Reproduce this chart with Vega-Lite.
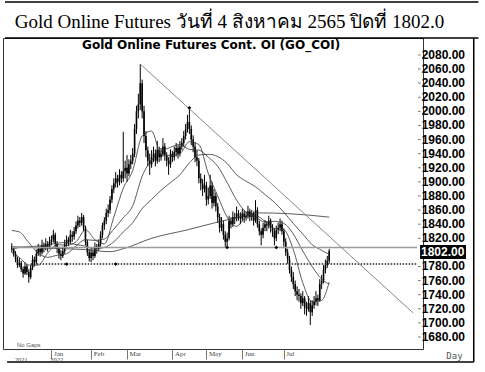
{
"$schema": "https://vega.github.io/schema/vega-lite/v6.json",
"width": 420, "height": 311,
"autosize": "none",
"padding": {"left": 3, "top": 38, "right": 62, "bottom": 23},
"background": "white",
"config": {"view": {"stroke": "#333", "strokeWidth": 1}, "axisX": {"labelOverlap": false}},
"datasets": {
"px": [
{"i":2,"o":1808,"h":1813,"l":1800,"c":1805},{"i":3,"o":1805,"h":1808,"l":1794,"c":1798},{"i":4,"o":1798,"h":1802,"l":1786,"c":1790},{"i":5,"o":1790,"h":1794,"l":1778,"c":1782},{"i":6,"o":1782,"h":1792,"l":1779,"c":1785},{"i":7,"o":1785,"h":1788,"l":1772,"c":1776},{"i":8,"o":1776,"h":1780,"l":1764,"c":1770},{"i":9,"o":1770,"h":1786,"l":1768,"c":1780},{"i":10,"o":1780,"h":1784,"l":1768,"c":1772},{"i":11,"o":1772,"h":1776,"l":1757,"c":1765},
{"i":12,"o":1765,"h":1782,"l":1762,"c":1778},{"i":13,"o":1778,"h":1796,"l":1775,"c":1790},{"i":14,"o":1790,"h":1794,"l":1780,"c":1786},{"i":15,"o":1786,"h":1804,"l":1783,"c":1798},{"i":16,"o":1798,"h":1812,"l":1795,"c":1805},{"i":17,"o":1805,"h":1809,"l":1794,"c":1800},{"i":18,"o":1800,"h":1818,"l":1797,"c":1810},{"i":19,"o":1810,"h":1814,"l":1800,"c":1806},{"i":20,"o":1806,"h":1820,"l":1803,"c":1812},{"i":21,"o":1812,"h":1816,"l":1801,"c":1808},
{"i":22,"o":1808,"h":1822,"l":1805,"c":1815},{"i":23,"o":1815,"h":1824,"l":1810,"c":1818},{"i":24,"o":1818,"h":1832,"l":1814,"c":1825},{"i":25,"o":1825,"h":1828,"l":1806,"c":1812},{"i":26,"o":1812,"h":1816,"l":1799,"c":1805},{"i":27,"o":1805,"h":1808,"l":1791,"c":1798},{"i":28,"o":1798,"h":1803,"l":1789,"c":1795},{"i":29,"o":1795,"h":1808,"l":1792,"c":1802},{"i":30,"o":1802,"h":1818,"l":1798,"c":1812},{"i":31,"o":1812,"h":1824,"l":1808,"c":1818},
{"i":32,"o":1818,"h":1822,"l":1809,"c":1815},{"i":33,"o":1815,"h":1832,"l":1812,"c":1825},{"i":34,"o":1825,"h":1830,"l":1815,"c":1822},{"i":35,"o":1822,"h":1836,"l":1818,"c":1830},{"i":36,"o":1830,"h":1844,"l":1826,"c":1838},{"i":37,"o":1838,"h":1852,"l":1834,"c":1845},{"i":38,"o":1845,"h":1850,"l":1836,"c":1842},{"i":39,"o":1842,"h":1856,"l":1838,"c":1850},{"i":40,"o":1850,"h":1853,"l":1830,"c":1835},{"i":41,"o":1835,"h":1838,"l":1810,"c":1815},
{"i":42,"o":1815,"h":1818,"l":1795,"c":1800},{"i":43,"o":1800,"h":1805,"l":1787,"c":1792},{"i":44,"o":1792,"h":1806,"l":1786,"c":1800},{"i":45,"o":1800,"h":1804,"l":1789,"c":1795},{"i":46,"o":1795,"h":1814,"l":1792,"c":1808},{"i":47,"o":1808,"h":1812,"l":1798,"c":1805},{"i":48,"o":1805,"h":1818,"l":1802,"c":1812},{"i":49,"o":1812,"h":1830,"l":1808,"c":1825},{"i":50,"o":1825,"h":1842,"l":1820,"c":1838},{"i":51,"o":1838,"h":1850,"l":1832,"c":1845},
{"i":52,"o":1845,"h":1862,"l":1840,"c":1856},{"i":53,"o":1856,"h":1868,"l":1850,"c":1860},{"i":54,"o":1860,"h":1880,"l":1855,"c":1875},{"i":55,"o":1875,"h":1895,"l":1870,"c":1890},{"i":56,"o":1890,"h":1905,"l":1884,"c":1898},{"i":57,"o":1898,"h":1914,"l":1892,"c":1905},{"i":58,"o":1905,"h":1910,"l":1892,"c":1900},{"i":59,"o":1900,"h":1918,"l":1895,"c":1910},{"i":60,"o":1910,"h":1915,"l":1898,"c":1905},{"i":61,"o":1905,"h":1971,"l":1900,"c":1915},
{"i":62,"o":1915,"h":1930,"l":1905,"c":1920},{"i":63,"o":1920,"h":1938,"l":1900,"c":1912},{"i":64,"o":1912,"h":1932,"l":1908,"c":1925},{"i":65,"o":1925,"h":1938,"l":1918,"c":1930},{"i":66,"o":1930,"h":1948,"l":1925,"c":1940},{"i":67,"o":1940,"h":1982,"l":1935,"c":1975},{"i":68,"o":1975,"h":2008,"l":1968,"c":2000},{"i":69,"o":2000,"h":2025,"l":1990,"c":2010},{"i":70,"o":2010,"h":2067,"l":2002,"c":2040},{"i":71,"o":2040,"h":2045,"l":1990,"c":2000},
{"i":72,"o":2000,"h":2008,"l":1955,"c":1965},{"i":73,"o":1965,"h":1972,"l":1935,"c":1945},{"i":74,"o":1945,"h":1950,"l":1922,"c":1930},{"i":75,"o":1930,"h":1940,"l":1910,"c":1925},{"i":76,"o":1925,"h":1945,"l":1920,"c":1935},{"i":77,"o":1935,"h":1950,"l":1928,"c":1940},{"i":78,"o":1940,"h":1946,"l":1922,"c":1930},{"i":79,"o":1930,"h":1958,"l":1926,"c":1945},{"i":80,"o":1945,"h":1950,"l":1928,"c":1935},{"i":81,"o":1935,"h":1948,"l":1930,"c":1940},
{"i":82,"o":1940,"h":1962,"l":1936,"c":1950},{"i":83,"o":1950,"h":1955,"l":1930,"c":1938},{"i":84,"o":1938,"h":1942,"l":1922,"c":1930},{"i":85,"o":1930,"h":1935,"l":1910,"c":1925},{"i":86,"o":1925,"h":1946,"l":1920,"c":1940},{"i":87,"o":1940,"h":1944,"l":1928,"c":1935},{"i":88,"o":1935,"h":1950,"l":1930,"c":1942},{"i":89,"o":1942,"h":1955,"l":1936,"c":1948},{"i":90,"o":1948,"h":1952,"l":1933,"c":1940},{"i":91,"o":1940,"h":1958,"l":1936,"c":1950},
{"i":92,"o":1950,"h":1962,"l":1945,"c":1955},{"i":93,"o":1955,"h":1972,"l":1950,"c":1965},{"i":94,"o":1965,"h":1982,"l":1960,"c":1975},{"i":95,"o":1975,"h":1995,"l":1970,"c":1985},{"i":96,"o":1985,"h":2003,"l":1968,"c":1975},{"i":97,"o":1975,"h":1980,"l":1952,"c":1960},{"i":98,"o":1960,"h":1966,"l":1942,"c":1950},{"i":99,"o":1950,"h":1956,"l":1928,"c":1935},{"i":100,"o":1935,"h":1945,"l":1922,"c":1930},{"i":101,"o":1930,"h":1934,"l":1898,"c":1905},
{"i":102,"o":1905,"h":1912,"l":1888,"c":1898},{"i":103,"o":1898,"h":1904,"l":1880,"c":1890},{"i":104,"o":1890,"h":1910,"l":1885,"c":1895},{"i":105,"o":1895,"h":1900,"l":1866,"c":1875},{"i":106,"o":1875,"h":1892,"l":1868,"c":1880},{"i":107,"o":1880,"h":1910,"l":1876,"c":1895},{"i":108,"o":1895,"h":1900,"l":1862,"c":1870},{"i":109,"o":1870,"h":1890,"l":1865,"c":1880},{"i":110,"o":1880,"h":1885,"l":1858,"c":1865},{"i":111,"o":1865,"h":1870,"l":1842,"c":1850},
{"i":112,"o":1850,"h":1855,"l":1828,"c":1835},{"i":113,"o":1835,"h":1850,"l":1830,"c":1840},{"i":114,"o":1840,"h":1845,"l":1818,"c":1825},{"i":115,"o":1825,"h":1830,"l":1808,"c":1815},{"i":116,"o":1815,"h":1828,"l":1809,"c":1820},{"i":117,"o":1820,"h":1852,"l":1817,"c":1845},{"i":118,"o":1845,"h":1850,"l":1834,"c":1840},{"i":119,"o":1840,"h":1858,"l":1836,"c":1850},{"i":120,"o":1850,"h":1856,"l":1840,"c":1848},{"i":121,"o":1848,"h":1865,"l":1844,"c":1855},
{"i":122,"o":1855,"h":1860,"l":1845,"c":1852},{"i":123,"o":1852,"h":1857,"l":1840,"c":1848},{"i":124,"o":1848,"h":1862,"l":1844,"c":1855},{"i":125,"o":1855,"h":1860,"l":1842,"c":1850},{"i":126,"o":1850,"h":1858,"l":1845,"c":1852},{"i":127,"o":1852,"h":1866,"l":1848,"c":1858},{"i":128,"o":1858,"h":1862,"l":1844,"c":1850},{"i":129,"o":1850,"h":1860,"l":1845,"c":1855},{"i":130,"o":1855,"h":1858,"l":1838,"c":1845},{"i":131,"o":1845,"h":1874,"l":1842,"c":1860},
{"i":132,"o":1860,"h":1864,"l":1835,"c":1840},{"i":133,"o":1840,"h":1845,"l":1824,"c":1830},{"i":134,"o":1830,"h":1834,"l":1810,"c":1825},{"i":135,"o":1825,"h":1842,"l":1820,"c":1835},{"i":136,"o":1835,"h":1846,"l":1830,"c":1840},{"i":137,"o":1840,"h":1844,"l":1830,"c":1838},{"i":138,"o":1838,"h":1852,"l":1834,"c":1845},{"i":139,"o":1845,"h":1848,"l":1828,"c":1835},{"i":140,"o":1835,"h":1840,"l":1822,"c":1830},{"i":141,"o":1830,"h":1834,"l":1810,"c":1820},
{"i":142,"o":1820,"h":1838,"l":1816,"c":1832},{"i":143,"o":1832,"h":1842,"l":1826,"c":1835},{"i":144,"o":1835,"h":1848,"l":1830,"c":1840},{"i":145,"o":1840,"h":1845,"l":1825,"c":1830},{"i":146,"o":1830,"h":1834,"l":1808,"c":1815},{"i":147,"o":1815,"h":1820,"l":1795,"c":1800},{"i":148,"o":1800,"h":1805,"l":1784,"c":1790},{"i":149,"o":1790,"h":1795,"l":1770,"c":1775},{"i":150,"o":1775,"h":1780,"l":1758,"c":1765},{"i":151,"o":1765,"h":1772,"l":1748,"c":1755},
{"i":152,"o":1755,"h":1760,"l":1738,"c":1745},{"i":153,"o":1745,"h":1752,"l":1732,"c":1740},{"i":154,"o":1740,"h":1748,"l":1730,"c":1738},{"i":155,"o":1738,"h":1742,"l":1720,"c":1728},{"i":156,"o":1728,"h":1745,"l":1724,"c":1735},{"i":157,"o":1735,"h":1738,"l":1712,"c":1722},{"i":158,"o":1722,"h":1730,"l":1710,"c":1720},{"i":159,"o":1720,"h":1738,"l":1716,"c":1728},{"i":160,"o":1728,"h":1732,"l":1697,"c":1715},{"i":161,"o":1715,"h":1732,"l":1710,"c":1725},
{"i":162,"o":1725,"h":1738,"l":1720,"c":1730},{"i":163,"o":1730,"h":1745,"l":1725,"c":1735},{"i":164,"o":1735,"h":1740,"l":1724,"c":1732},{"i":165,"o":1732,"h":1762,"l":1730,"c":1755},{"i":166,"o":1755,"h":1768,"l":1748,"c":1760},{"i":167,"o":1760,"h":1782,"l":1756,"c":1775},{"i":168,"o":1775,"h":1790,"l":1770,"c":1782},{"i":169,"o":1782,"h":1795,"l":1778,"c":1788},{"i":170,"o":1788,"h":1805,"l":1784,"c":1802}
],
"ma": [
{"s":"m1","i":2,"v":1800},{"s":"m1","i":6,"v":1793},{"s":"m1","i":11,"v":1782},{"s":"m1","i":16,"v":1782},{"s":"m1","i":21,"v":1799},{"s":"m1","i":26,"v":1811},{"s":"m1","i":31,"v":1810},{"s":"m1","i":36,"v":1815},{"s":"m1","i":41,"v":1832},{"s":"m1","i":46,"v":1818},{"s":"m1","i":51,"v":1812},{"s":"m1","i":56,"v":1850},{"s":"m1","i":61,"v":1891},{"s":"m1","i":66,"v":1916},{"s":"m1","i":71,"v":1965},{"s":"m1","i":76,"v":1972},{"s":"m1","i":81,"v":1939},{"s":"m1","i":86,"v":1937},{"s":"m1","i":91,"v":1940},{"s":"m1","i":96,"v":1957},{"s":"m1","i":101,"v":1953},{"s":"m1","i":106,"v":1912},{"s":"m1","i":111,"v":1880},{"s":"m1","i":116,"v":1850},{"s":"m1","i":121,"v":1837},{"s":"m1","i":126,"v":1850},{"s":"m1","i":131,"v":1852},{"s":"m1","i":136,"v":1844},{"s":"m1","i":141,"v":1834},{"s":"m1","i":146,"v":1832},{"s":"m1","i":151,"v":1804},{"s":"m1","i":156,"v":1757},{"s":"m1","i":161,"v":1730},{"s":"m1","i":166,"v":1732},{"s":"m1","i":170,"v":1758},
{"s":"m2","i":2,"v":1831},{"s":"m2","i":6,"v":1829},{"s":"m2","i":11,"v":1814},{"s":"m2","i":16,"v":1799},{"s":"m2","i":21,"v":1793},{"s":"m2","i":26,"v":1796},{"s":"m2","i":31,"v":1798},{"s":"m2","i":36,"v":1809},{"s":"m2","i":41,"v":1818},{"s":"m2","i":46,"v":1817},{"s":"m2","i":51,"v":1819},{"s":"m2","i":56,"v":1833},{"s":"m2","i":61,"v":1849},{"s":"m2","i":66,"v":1866},{"s":"m2","i":71,"v":1908},{"s":"m2","i":76,"v":1931},{"s":"m2","i":81,"v":1943},{"s":"m2","i":86,"v":1949},{"s":"m2","i":91,"v":1953},{"s":"m2","i":96,"v":1946},{"s":"m2","i":101,"v":1945},{"s":"m2","i":106,"v":1935},{"s":"m2","i":111,"v":1922},{"s":"m2","i":116,"v":1899},{"s":"m2","i":121,"v":1874},{"s":"m2","i":126,"v":1857},{"s":"m2","i":131,"v":1850},{"s":"m2","i":136,"v":1843},{"s":"m2","i":141,"v":1844},{"s":"m2","i":146,"v":1841},{"s":"m2","i":151,"v":1826},{"s":"m2","i":156,"v":1802},{"s":"m2","i":161,"v":1780},{"s":"m2","i":166,"v":1762},{"s":"m2","i":170,"v":1755},
{"s":"m3","i":2,"v":1804},{"s":"m3","i":6,"v":1807},{"s":"m3","i":11,"v":1808},{"s":"m3","i":16,"v":1809},{"s":"m3","i":21,"v":1811},{"s":"m3","i":26,"v":1813},{"s":"m3","i":31,"v":1814},{"s":"m3","i":36,"v":1811},{"s":"m3","i":41,"v":1809},{"s":"m3","i":46,"v":1805},{"s":"m3","i":51,"v":1807},{"s":"m3","i":56,"v":1815},{"s":"m3","i":61,"v":1829},{"s":"m3","i":66,"v":1842},{"s":"m3","i":71,"v":1862},{"s":"m3","i":76,"v":1875},{"s":"m3","i":81,"v":1888},{"s":"m3","i":86,"v":1899},{"s":"m3","i":91,"v":1910},{"s":"m3","i":96,"v":1927},{"s":"m3","i":101,"v":1938},{"s":"m3","i":106,"v":1939},{"s":"m3","i":111,"v":1936},{"s":"m3","i":116,"v":1926},{"s":"m3","i":121,"v":1910},{"s":"m3","i":126,"v":1901},{"s":"m3","i":131,"v":1893},{"s":"m3","i":136,"v":1882},{"s":"m3","i":141,"v":1871},{"s":"m3","i":146,"v":1857},{"s":"m3","i":151,"v":1841},{"s":"m3","i":156,"v":1826},{"s":"m3","i":161,"v":1811},{"s":"m3","i":166,"v":1803},{"s":"m3","i":170,"v":1797},
{"s":"m4","i":2,"v":1808},{"s":"m4","i":20,"v":1806},{"s":"m4","i":41,"v":1804},{"s":"m4","i":54,"v":1801},{"s":"m4","i":62,"v":1806},{"s":"m4","i":76,"v":1820},{"s":"m4","i":95,"v":1832},{"s":"m4","i":111,"v":1843},{"s":"m4","i":122,"v":1850},{"s":"m4","i":133,"v":1856},{"s":"m4","i":148,"v":1855},{"s":"m4","i":170,"v":1850}
],
"ylab": [
{"i":218.4,"v":1680,"t":"1680.00"},{"i":218.4,"v":1700,"t":"1700.00"},{"i":218.4,"v":1720,"t":"1720.00"},{"i":218.4,"v":1740,"t":"1740.00"},{"i":218.4,"v":1760,"t":"1760.00"},{"i":218.4,"v":1780,"t":"1780.00"},{"i":218.4,"v":1820,"t":"1820.00"},{"i":218.4,"v":1840,"t":"1840.00"},{"i":218.4,"v":1860,"t":"1860.00"},{"i":218.4,"v":1880,"t":"1880.00"},{"i":218.4,"v":1900,"t":"1900.00"},{"i":218.4,"v":1920,"t":"1920.00"},{"i":218.4,"v":1940,"t":"1940.00"},{"i":218.4,"v":1960,"t":"1960.00"},{"i":218.4,"v":1980,"t":"1980.00"},{"i":218.4,"v":2000,"t":"2000.00"},{"i":218.4,"v":2020,"t":"2020.00"},{"i":218.4,"v":2040,"t":"2040.00"},{"i":218.4,"v":2060,"t":"2060.00"},{"i":218.4,"v":2080,"t":"2080.00"}
]
},
"layer": [
{"data": {"name": "px"},
 "mark": {"type": "rule", "color": "black", "strokeWidth": 1},
 "encoding": {
  "x": {"field": "i", "type": "quantitative", "title": null,
   "scale": {"domain": [0, 217], "nice": false, "zero": false},
   "axis": {"orient": "bottom", "values": [23, 44, 63, 87, 105, 124, 146],
    "labelExpr": "datum.value==23?'Jan':datum.value==44?'Feb':datum.value==63?'Mar':datum.value==87?'Apr':datum.value==105?'May':datum.value==124?'Jun':'Jul'",
    "labelAlign": "left", "labelBaseline": "top", "labelPadding": -10, "labelOffset": 2,
    "tickSize": 10, "tickColor": "#777", "domain": false, "grid": false,
    "labelFont": "Liberation Serif", "labelFontSize": 7, "labelColor": "#444", "labelFlush": false, "labelOverlap": false}},
  "y": {"field": "l", "type": "quantitative", "axis": null,
   "scale": {"domain": [1663, 2104], "nice": false, "zero": false}},
  "y2": {"field": "h"}
 }},
{"data": {"name": "px"},
 "mark": {"type": "bar", "width": 1.6, "color": "black"},
 "encoding": {
  "x": {"field": "i", "type": "quantitative", "title": null},
  "y": {"field": "o", "type": "quantitative", "axis": null},
  "y2": {"field": "c"}
 }},
{"data": {"name": "ma"},
 "mark": {"type": "line", "interpolate": "monotone", "strokeWidth": 0.8, "color": "#333"},
 "encoding": {
  "x": {"field": "i", "type": "quantitative", "title": null},
  "y": {"field": "v", "type": "quantitative", "axis": null},
  "detail": {"field": "s"}
 }},
{"data": {"values": [{"i": 2, "i2": 216.5, "v": 1807}]},
 "mark": {"type": "rule", "color": "#9a9a9a", "strokeWidth": 1.5},
 "encoding": {"x": {"field": "i", "type": "quantitative", "title": null}, "x2": {"field": "i2"}, "y": {"field": "v", "type": "quantitative", "axis": null}}},
{"data": {"values": [{"i": 12, "i2": 216.5, "v": 1783.5}]},
 "mark": {"type": "rule", "color": "#222", "strokeWidth": 1.3, "strokeDash": [1.5, 1.5]},
 "encoding": {"x": {"field": "i", "type": "quantitative", "title": null}, "x2": {"field": "i2"}, "y": {"field": "v", "type": "quantitative", "axis": null}}},
{"data": {"values": [{"i": 70, "i2": 214.5, "v": 2067, "v2": 1714}]},
 "mark": {"type": "rule", "color": "#888", "strokeWidth": 1},
 "encoding": {"x": {"field": "i", "type": "quantitative", "title": null}, "x2": {"field": "i2"}, "y": {"field": "v", "type": "quantitative", "axis": null}, "y2": {"field": "v2"}}},
{"data": {"values": [{"i": 31, "v": 1783.5}, {"i": 57, "v": 1783.5}, {"i": 116, "v": 1807}, {"i": 142, "v": 1807}, {"i": 96, "v": 2005}]},
 "mark": {"type": "point", "shape": "diamond", "filled": true, "size": 14, "color": "black", "opacity": 1},
 "encoding": {"x": {"field": "i", "type": "quantitative", "title": null}, "y": {"field": "v", "type": "quantitative", "axis": null}}},
{"data": {"values": [{"i": -1.6, "i2": 249, "v": 2155, "v2": 2155}, {"i": -1.6, "i2": 249, "v": 2104, "v2": 2104}, {"i": 246.5, "i2": 246.5, "v": 2104, "v2": 1644.5}, {"i": -0.5, "i2": 246.5, "v": 1644.5, "v2": 1644.5}]},
 "mark": {"type": "rule", "color": "black", "strokeWidth": 1.5},
 "encoding": {"x": {"field": "i", "type": "quantitative", "title": null}, "x2": {"field": "i2"}, "y": {"field": "v", "type": "quantitative", "axis": null}, "y2": {"field": "v2"}}},
{"data": {"name": "ylab"},
 "mark": {"type": "rule", "color": "#777", "strokeWidth": 1},
 "encoding": {"x": {"field": "i", "type": "quantitative", "title": null}, "x2": {"datum": 217}, "y": {"field": "v", "type": "quantitative", "axis": null}}},
{"data": {"name": "ylab"},
 "mark": {"type": "text", "color": "black", "font": "Liberation Sans", "fontWeight": "bold", "fontSize": 12, "align": "left", "baseline": "middle", "dx": 1},
 "encoding": {"x": {"field": "i", "type": "quantitative", "title": null}, "y": {"field": "v", "type": "quantitative", "axis": null}, "text": {"field": "t"}}},
{"data": {"values": [{"i": 218.1, "i2": 242.4, "v": 1810.5, "v2": 1790.6}]},
 "mark": {"type": "rect", "color": "black"},
 "encoding": {"x": {"field": "i", "type": "quantitative", "title": null}, "x2": {"field": "i2"}, "y": {"field": "v", "type": "quantitative", "axis": null}, "y2": {"field": "v2"}}},
{"data": {"values": [{"i": 218.6, "v": 1800.5, "t": "1802.00"}]},
 "mark": {"type": "text", "color": "white", "font": "Liberation Sans", "fontWeight": "bold", "fontSize": 12, "align": "left", "baseline": "middle"},
 "encoding": {"x": {"field": "i", "type": "quantitative", "title": null}, "y": {"field": "v", "type": "quantitative", "axis": null}, "text": {"field": "t"}}},
{"data": {"values": [{"i": 3.6, "v": 2118, "t": "Gold Online Futures วันที่ 4 สิงหาคม 2565 ปิดที่ 1802.0"}]},
 "mark": {"type": "text", "color": "black", "font": "Liberation Serif", "fontSize": 19, "align": "left", "baseline": "alphabetic"},
 "encoding": {"x": {"field": "i", "type": "quantitative", "title": null}, "y": {"field": "v", "type": "quantitative", "axis": null}, "text": {"field": "t"}}},
{"data": {"values": [{"i": 107.5, "v": 2094, "t": "Gold Online Futures Cont. OI (GO_COI)"}]},
 "mark": {"type": "text", "color": "black", "font": "DejaVu Sans", "fontWeight": "bold", "fontSize": 12, "align": "center", "baseline": "middle"},
 "encoding": {"x": {"field": "i", "type": "quantitative", "title": null}, "y": {"field": "v", "type": "quantitative", "axis": null}, "text": {"field": "t"}}},
{"data": {"values": [{"i": 4.7, "v": 1668.7, "t": "No Gaps"}]},
 "mark": {"type": "text", "color": "#555", "font": "Liberation Sans", "fontSize": 6, "align": "left", "baseline": "middle"},
 "encoding": {"x": {"field": "i", "type": "quantitative", "title": null}, "y": {"field": "v", "type": "quantitative", "axis": null}, "text": {"field": "t"}}},
{"data": {"values": [{"i": 3.6, "v": 1651.0, "t": "2021"}, {"i": 22.3, "v": 1651.0, "t": "2022"}]},
 "mark": {"type": "text", "color": "#444", "font": "Liberation Serif", "fontSize": 6.5, "align": "left", "baseline": "top"},
 "encoding": {"x": {"field": "i", "type": "quantitative", "title": null}, "y": {"field": "v", "type": "quantitative", "axis": null}, "text": {"field": "t"}}},
{"data": {"values": [{"i": 232, "v": 1653, "t": "Day"}]},
 "mark": {"type": "text", "color": "#555", "font": "DejaVu Sans Mono", "fontSize": 9, "align": "left", "baseline": "middle"},
 "encoding": {"x": {"field": "i", "type": "quantitative", "title": null}, "y": {"field": "v", "type": "quantitative", "axis": null}, "text": {"field": "t"}}}
]
}
